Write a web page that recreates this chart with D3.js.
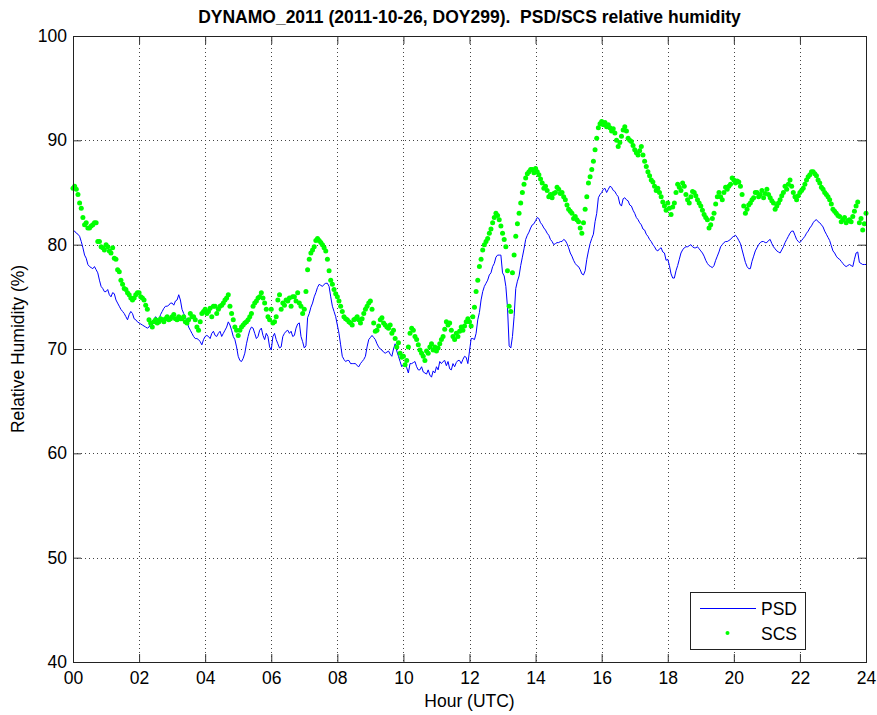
<!DOCTYPE html>
<html>
<head>
<meta charset="utf-8">
<script src="https://cdn.jsdelivr.net/npm/d3@7"></script>
<style>
  body { margin: 0; background: #fff; }
  text { font-family: "Liberation Sans", Arial, sans-serif; fill: #000; }
</style>
</head>
<body>
<svg id="chart" width="877" height="715"></svg>
<script>
// relative humidity (%), one value every 0.05 h (3 min) from 00 to 24 UTC, one row per hour
const psdRH = [
  81.3,81.3, 81.1,81.0, 80.8,80.3, 79.7,79.0, 78.7,78.1, 77.9,77.8, 77.7,77.9, 77.6,77.3, 76.6,76.0, 75.8,75.5,
  75.5,75.7, 75.2,75.0, 75.4,75.3, 74.7,74.4, 74.1,73.8, 73.6,73.4, 73.1,72.8, 73.3,73.6, 73.4,72.9, 72.8,72.6,
  72.5,72.4, 72.3,72.2, 72.1,72.0, 72.1,72.4, 72.3,72.8, 73.1,72.9, 72.8,73.3, 73.6,73.9, 74.1,74.1, 74.2,74.4,
  74.4,74.2, 74.6,74.7, 75.2,74.7, 73.8,73.4, 73.1,72.6, 72.1,71.8, 71.5,71.2, 71.0,71.0, 70.9,70.7, 70.4,70.9,
  71.2,71.3, 71.2,71.0, 71.5,71.7, 71.3,71.2, 71.5,71.7, 71.2,71.5, 71.8,72.1, 72.6,72.3, 71.8,71.2, 70.9,70.2,
  69.3,68.9, 68.8,69.1, 69.6,70.5, 71.2,71.8, 72.1,72.0, 71.5,71.0, 71.2,71.8, 72.0,71.3, 70.9,71.5, 71.2,70.2,
  69.9,71.2, 71.5,70.9, 70.5,70.1, 70.2,71.2, 71.5,71.7, 71.8,71.5, 71.7,71.2, 71.3,72.0, 72.4,72.5, 71.2,70.7,
  70.1,70.3, 73.0,73.4, 74.0,74.4, 75.0,75.4, 75.9,76.2, 76.1,76.0, 76.2,76.3, 76.3,76.0, 75.0,74.1, 73.6,73.1,
  72.3,71.5, 70.4,69.3, 69.0,68.8, 68.9,68.9, 68.6,68.6, 68.6,68.6, 68.4,68.3, 68.6,68.8, 69.0,69.3, 70.2,70.9,
  71.1,71.3, 71.1,70.9, 70.5,70.2, 70.0,69.9, 69.7,69.6, 69.7,69.8, 69.5,69.3, 70.0,70.5, 69.8,69.3, 68.8,68.3,
  68.5,68.6, 68.2,67.7, 68.6,68.6, 68.7,68.8, 68.3,68.0, 68.0,68.3, 67.8,67.7, 67.6,68.0, 67.5,67.3, 67.9,67.7,
  68.3,68.0, 68.8,68.6, 68.8,68.9, 68.4,68.8, 68.1,68.0, 68.6,68.3, 68.7,68.9, 68.9,68.6, 69.0,69.3, 69.2,68.6,
  69.8,71.0, 71.0,70.9, 71.5,72.8, 73.5,74.7, 75.5,76.0, 76.3,76.6, 77.1,77.3, 77.9,78.2, 78.8,79.0, 79.0,79.0,
  77.3,77.0, 76.0,74.0, 70.3,70.1, 71.2,73.1, 75.8,76.5, 77.0,78.0, 78.8,79.6, 80.5,80.9, 81.2,81.6, 81.9,82.0,
  82.3,82.6, 82.5,82.1, 81.9,81.6, 81.4,81.1, 80.9,80.5, 80.3,80.0, 80.1,80.2, 80.2,80.3, 80.3,80.5, 80.4,80.1,
  79.7,79.2, 78.9,78.5, 78.2,78.0, 77.9,77.6, 77.2,77.1, 77.5,78.6, 79.4,80.1, 80.6,81.0, 82.2,83.0, 84.5,84.8,
  85.0,85.3, 85.4,85.0, 85.3,85.6, 85.5,85.2, 85.1,84.8, 84.6,83.9, 83.7,84.4, 84.5,84.3, 84.2,83.8, 83.7,83.3,
  83.0,82.6, 82.4,82.1, 81.9,81.5, 81.4,81.0, 80.8,80.5, 80.3,80.0, 79.8,79.5, 79.4,79.6, 79.7,79.3, 79.2,78.5,
  78.6,78.0, 77.2,76.8, 76.8,77.5, 78.0,78.6, 79.2,79.5, 79.7,79.8, 79.8,79.9, 80.0,79.8, 79.7,79.7, 79.8,79.6,
  79.4,79.2, 78.9,78.5, 78.2,78.0, 77.9,77.8, 78.0,78.5, 78.9,79.3, 79.8,80.0, 80.2,80.3, 80.3,80.4, 80.5,80.7,
  80.8,80.9, 80.7,80.4, 80.1,79.5, 78.9,78.3, 77.9,77.7, 77.7,78.4, 78.9,79.4, 79.7,80.0, 80.2,80.3, 80.3,80.2,
  80.2,80.4, 80.5,80.1, 79.8,79.6, 79.4,79.3, 79.2,79.5, 79.8,80.2, 80.5,80.8, 81.1,81.3, 81.3,80.9, 80.5,80.3,
  80.2,80.4, 80.6,80.8, 81.1,81.3, 81.6,81.8, 82.1,82.3, 82.4,82.2, 82.1,81.9, 81.7,81.3, 81.0,80.7, 80.4,79.9,
  79.4,79.2, 78.9,78.7, 78.6,78.4, 78.2,78.0, 77.9,78.0, 78.1,78.0, 77.9,78.6, 79.2,79.3, 78.3,78.2, 78.1,78.1,
  78.1
];

const scsRH = [
  85.4,85.6, 85.3,84.8, 84.0,83.5, 82.6,81.9, 82.1,81.6, 81.6,81.8, 81.9,82.1, 82.1,80.3, 80.3,79.8, 79.7,79.5,
  80.0,79.8, 79.4,79.2, 79.7,78.7, 78.6,77.6, 77.4,76.6, 76.2,75.8, 75.7,75.4, 75.2,74.9, 74.7,74.9, 75.2,75.4,
  75.4,75.0, 74.9,74.7, 74.2,73.8, 72.8,72.5, 72.1,72.6, 72.8,72.5, 72.6,72.9, 72.8,72.6, 72.9,73.1, 72.8,72.9,
  73.1,73.3, 72.9,72.8, 73.1,72.9, 72.9,73.1, 72.6,72.5, 72.8,73.4, 73.1,73.1, 72.8,72.1, 71.8,72.6, 73.4,73.6,
  73.8,73.4, 73.6,73.9, 73.1,74.1, 74.1,73.4, 73.8,74.1, 74.2,74.4, 74.7,74.9, 75.2,74.1, 73.4,72.8, 72.1,71.8,
  71.3,71.8, 72.1,72.3, 72.5,72.6, 72.8,73.1, 73.4,74.1, 74.4,74.6, 74.9,75.0, 75.4,74.9, 74.4,73.8, 73.1,72.8,
  73.8,72.5, 72.6,73.1, 74.7,75.2, 73.8,74.4, 74.2,74.7, 74.6,74.9, 74.1,75.0, 75.0,74.6, 75.4,74.4, 74.1,73.4,
  73.8,75.5, 77.6,78.6, 79.2,79.5, 79.8,80.4, 80.6,80.4, 80.2,80.0, 79.7,79.4, 78.6,77.5, 76.6,76.2, 75.7,75.3,
  75.0,74.6, 74.1,73.6, 73.1,72.9, 72.8,72.6, 72.5,72.3, 72.8,72.9, 73.1,72.8, 72.5,72.9, 73.4,73.8, 74.1,74.4,
  74.6,73.8, 72.5,71.7, 71.8,72.2, 72.8,73.0, 72.5,72.3, 72.1,72.0, 72.3,71.5, 71.8,71.0, 70.2,70.6, 69.6,69.2,
  69.3,68.5, 68.9,70.2, 71.5,72.0, 71.8,71.2, 70.9,70.4, 69.9,69.6, 69.3,68.9, 69.8,69.6, 70.2,70.5, 69.9,70.2,
  69.8,70.1, 70.5,70.9, 71.2,71.9, 72.6,72.3, 72.5,71.8, 71.2,70.9, 71.5,71.2, 71.7,72.1, 71.8,72.2, 72.6,72.9,
  72.6,72.2, 73.1,74.0, 75.5,76.6, 77.9,78.6, 79.5,80.0, 80.3,80.6, 81.1,81.5, 82.1,82.6, 83.0,82.8, 82.4,81.8,
  81.1,80.5, 79.8,77.5, 74.1,73.6, 77.3,79.0, 80.8,82.0, 83.0,84.0, 85.0,85.8, 86.4,86.8, 87.0,87.2, 87.2,86.9,
  87.3,87.0, 86.7,86.3, 85.9,85.4, 85.6,85.2, 84.6,84.8, 84.5,84.9, 85.0,85.5, 85.3,84.9, 85.0,84.6, 84.3,83.8,
  83.4,83.2, 83.0,82.5, 82.7,82.4, 82.2,81.6, 81.1,82.1, 83.4,84.6, 85.9,86.5, 87.2,88.0, 89.1,90.2, 91.2,91.6,
  91.8,91.5, 91.7,91.3, 91.5,91.2, 90.9,91.1, 90.7,90.0, 89.4,89.8, 90.4,91.0, 91.3,90.9, 90.2,90.0, 89.9,89.5,
  89.1,88.8, 88.6,89.0, 89.4,88.6, 88.0,87.5, 87.0,86.6, 86.2,86.0, 85.6,85.2, 85.4,85.0, 84.6,84.1, 83.7,83.3,
  84.0,83.5, 82.9,83.6, 84.0,85.0, 85.8,85.5, 85.2,85.9, 85.6,84.8, 84.3,84.0, 84.6,85.1, 85.0,84.7, 84.3,84.0,
  83.7,83.3, 82.9,82.6, 82.4,81.6, 81.9,82.5, 83.0,83.9, 84.6,85.0, 84.6,84.3, 85.0,85.5, 85.3,85.6, 85.8,86.4,
  86.2,85.9, 86.1,86.0, 85.6,84.8, 83.7,83.0, 83.4,83.8, 84.0,84.3, 84.5,85.0, 85.0,84.6, 84.8,85.2, 84.5,84.9,
  85.3,84.8, 84.5,84.2, 84.0,83.4, 83.7,84.0, 84.3,84.7, 85.0,85.6, 85.3,85.8, 86.2,85.6, 85.0,84.6, 84.3,84.7,
  85.0,85.2, 85.4,85.8, 86.2,86.5, 86.7,87.0, 87.0,86.8, 86.6,86.2, 85.9,85.5, 85.3,85.0, 84.8,84.6, 84.3,83.9,
  83.4,83.2, 83.0,82.8, 82.7,82.2, 82.4,82.6, 82.1,82.3, 82.4,82.2, 82.7,83.2, 83.7,84.1, 82.1,82.5, 81.4,82.0,
  83.0
];

const hourTicks = [0, 2, 4, 6, 8, 10, 12, 14, 16, 18, 20, 22, 24];
const rhTicks = [40, 50, 60, 70, 80, 90, 100];
const seriesNames = ['PSD', 'SCS'];

const hours = psdRH.map((v, i) => i / 20);

const svg = d3.select('#chart');
const margin = { top: 36, right: 11, bottom: 53, left: 73 };
const width = 877 - margin.left - margin.right;
const height = 715 - margin.top - margin.bottom;
const tickLen = 8;
const fontSize = '17.5px';
const dotR = 2.5;

const x = d3.scaleLinear().domain([0, 24]).range([0, width]);
const y = d3.scaleLinear().domain([40, 100]).range([height, 0]);

const g = svg.append('g').attr('transform', `translate(${margin.left},${margin.top})`);

// dotted grid
g.selectAll('line.vgrid')
    .data(hourTicks.slice(1, -1))
    .enter().append('line')
    .attr('class', 'vgrid')
    .attr('x1', d => Math.round(x(d)) + 0.5).attr('x2', d => Math.round(x(d)) + 0.5)
    .attr('y1', 0).attr('y2', height)
    .attr('stroke', '#444').attr('stroke-width', 1)
    .attr('stroke-dasharray', '1,3');

g.selectAll('line.hgrid')
    .data(rhTicks.slice(1, -1))
    .enter().append('line')
    .attr('class', 'hgrid')
    .attr('x1', 0).attr('x2', width)
    .attr('y1', d => Math.round(y(d)) + 0.5).attr('y2', d => Math.round(y(d)) + 0.5)
    .attr('stroke', '#444').attr('stroke-width', 1)
    .attr('stroke-dasharray', '1,3');

// inward ticks on all four sides
const xAxisB = d3.axisBottom(x).tickValues(hourTicks).tickSizeInner(-tickLen).tickSizeOuter(0)
    .tickFormat(d => d3.format('02d')(d));
const xAxisT = d3.axisTop(x).tickValues(hourTicks).tickSizeInner(-tickLen).tickSizeOuter(0).tickFormat('');
const yAxisL = d3.axisLeft(y).tickValues(rhTicks).tickSizeInner(-tickLen).tickSizeOuter(0);
const yAxisR = d3.axisRight(y).tickValues(rhTicks).tickSizeInner(-tickLen).tickSizeOuter(0).tickFormat('');

const styleAxis = (sel) => {
    sel.select('.domain').remove();
    sel.selectAll('.tick line').attr('stroke', '#333');
    sel.selectAll('.tick text')
        .style('font-family', '"Liberation Sans", Arial, sans-serif')
        .style('font-size', fontSize)
        .attr('fill', '#000');
};

g.append('g').attr('transform', `translate(0,${height})`).call(xAxisB).call(styleAxis)
    .selectAll('.tick text').attr('y', 22).attr('dy', 0);
g.append('g').call(xAxisT).call(styleAxis);
g.append('g').call(yAxisL).call(styleAxis)
    .selectAll('.tick text').attr('x', -6);
g.append('g').attr('transform', `translate(${width},0)`).call(yAxisR).call(styleAxis);

// data
const line = d3.line()
    .x((d, i) => x(hours[i]))
    .y(d => y(d));

g.append('path')
    .datum(psdRH)
    .attr('d', line)
    .attr('fill', 'none')
    .attr('stroke', '#0000ff')
    .attr('stroke-width', 1);

g.selectAll('circle.scs')
    .data(scsRH)
    .enter().append('circle')
    .attr('class', 'scs')
    .attr('cx', (d, i) => x(hours[i]))
    .attr('cy', d => y(d))
    .attr('r', dotR)
    .attr('fill', '#00ff00');

// axes box
g.append('rect')
    .attr('x', 0.5).attr('y', 0.5)
    .attr('width', width).attr('height', height)
    .attr('fill', 'none')
    .attr('stroke', '#222')
    .attr('stroke-width', 1);

// legend, lower right
const legW = 115, legH = 57;
const leg = g.append('g').attr('transform', `translate(${width - 61 - legW},${height - 13 - legH})`);
leg.append('rect')
    .attr('x', 0.5).attr('y', 0.5)
    .attr('width', legW).attr('height', legH)
    .attr('fill', '#fff')
    .attr('stroke', '#222');
leg.append('line')
    .attr('x1', 10).attr('x2', 66)
    .attr('y1', 16.5).attr('y2', 16.5)
    .attr('stroke', '#0000ff');
leg.append('circle')
    .attr('cx', 37.5).attr('cy', 41)
    .attr('r', 2)
    .attr('fill', '#00ff00');
leg.selectAll('text')
    .data(seriesNames)
    .enter().append('text')
    .attr('x', 71)
    .attr('y', (d, i) => 23 + i * 25)
    .style('font-size', fontSize)
    .text(d => d);

// titles
svg.append('text')
    .attr('x', margin.left + width / 2)
    .attr('y', 23)
    .attr('text-anchor', 'middle')
    .style('font-size', '17.5px')
    .style('font-weight', 'bold')
    .text('DYNAMO_2011 (2011-10-26, DOY299).\u00a0\u00a0PSD/SCS relative humidity');

svg.append('text')
    .attr('x', margin.left + width / 2)
    .attr('y', 707)
    .attr('text-anchor', 'middle')
    .style('font-size', fontSize)
    .text('Hour (UTC)');

svg.append('text')
    .attr('transform', `translate(24,${margin.top + height / 2}) rotate(-90)`)
    .attr('text-anchor', 'middle')
    .style('font-size', fontSize)
    .text('Relative Humidity (%)');
</script>
</body>
</html>
